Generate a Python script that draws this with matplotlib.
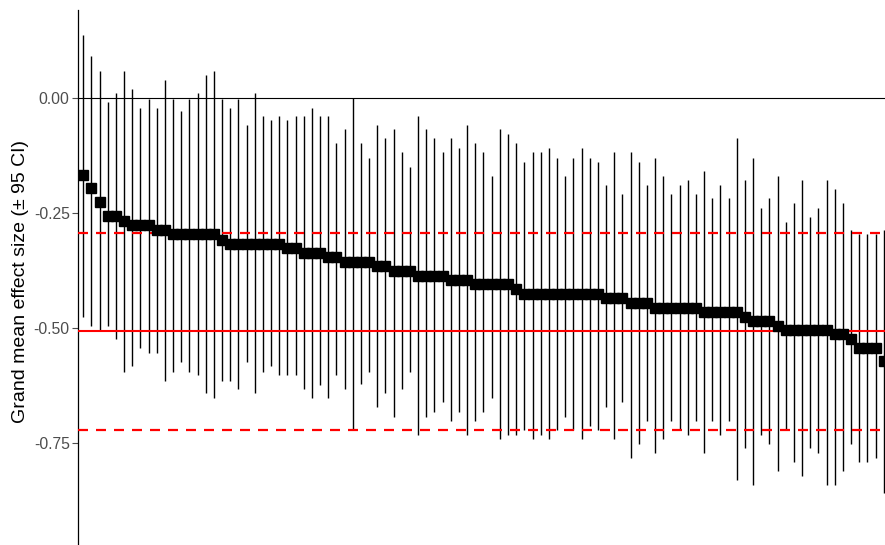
import numpy as np
import matplotlib
matplotlib.use("Agg")
import matplotlib.pyplot as plt

plt.rcParams["font.family"] = ["Liberation Sans", "DejaVu Sans"]

# grand mean effect size per item, sorted, with 95% CI bounds
means = [
    -0.167, -0.196, -0.226, -0.255, -0.255, -0.267, -0.275, -0.275, -0.275, -0.287,
    -0.287, -0.296, -0.296, -0.296, -0.296, -0.296, -0.296, -0.307, -0.316, -0.316,
    -0.316, -0.316, -0.316, -0.316, -0.316, -0.325, -0.325, -0.336, -0.336, -0.336,
    -0.346, -0.346, -0.355, -0.355, -0.355, -0.355, -0.365, -0.365, -0.375, -0.375,
    -0.375, -0.386, -0.386, -0.386, -0.386, -0.395, -0.395, -0.395, -0.404, -0.404,
    -0.404, -0.404, -0.404, -0.415, -0.425, -0.425, -0.425, -0.425, -0.425, -0.425,
    -0.425, -0.425, -0.425, -0.425, -0.435, -0.435, -0.435, -0.445, -0.445, -0.445,
    -0.455, -0.455, -0.455, -0.455, -0.455, -0.455, -0.465, -0.465, -0.465, -0.465,
    -0.465, -0.475, -0.484, -0.484, -0.484, -0.494, -0.504, -0.504, -0.504, -0.504,
    -0.504, -0.504, -0.513, -0.513, -0.523, -0.543, -0.543, -0.543, -0.572,
]
upper = [
    0.138, 0.091, 0.059, -0.007, 0.011, 0.059, 0.020, -0.020, -0.001, -0.020,
    0.040, -0.001, -0.028, -0.001, 0.011, 0.051, 0.059, -0.001, -0.020, -0.001,
    -0.058, 0.011, -0.038, -0.047, -0.038, -0.047, -0.038, -0.038, -0.020, -0.038,
    -0.038, -0.098, -0.067, 0.000, -0.098, -0.129, -0.058, -0.087, -0.067, -0.117,
    -0.149, -0.038, -0.067, -0.087, -0.117, -0.087, -0.107, -0.058, -0.098, -0.117,
    -0.169, -0.067, -0.078, -0.098, -0.138, -0.117, -0.117, -0.107, -0.129, -0.169,
    -0.129, -0.107, -0.129, -0.138, -0.188, -0.117, -0.209, -0.117, -0.138, -0.188,
    -0.129, -0.169, -0.209, -0.188, -0.178, -0.209, -0.158, -0.217, -0.188, -0.217,
    -0.087, -0.178, -0.129, -0.238, -0.217, -0.169, -0.268, -0.228, -0.178, -0.259,
    -0.238, -0.178, -0.198, -0.228, -0.286, -0.296, -0.296, -0.296, -0.286,
]
lower = [
    -0.475, -0.494, -0.504, -0.495, -0.523, -0.594, -0.583, -0.543, -0.554, -0.554,
    -0.614, -0.594, -0.574, -0.594, -0.601, -0.641, -0.652, -0.614, -0.614, -0.633,
    -0.574, -0.641, -0.594, -0.583, -0.601, -0.601, -0.601, -0.633, -0.652, -0.623,
    -0.652, -0.601, -0.633, -0.721, -0.622, -0.594, -0.672, -0.641, -0.692, -0.633,
    -0.594, -0.732, -0.692, -0.681, -0.661, -0.701, -0.681, -0.732, -0.701, -0.681,
    -0.652, -0.741, -0.732, -0.732, -0.721, -0.741, -0.732, -0.741, -0.721, -0.692,
    -0.721, -0.741, -0.712, -0.721, -0.672, -0.741, -0.661, -0.783, -0.751, -0.701,
    -0.772, -0.741, -0.701, -0.721, -0.732, -0.701, -0.772, -0.701, -0.732, -0.701,
    -0.830, -0.761, -0.841, -0.732, -0.751, -0.810, -0.721, -0.791, -0.821, -0.761,
    -0.772, -0.841, -0.841, -0.810, -0.751, -0.791, -0.791, -0.783, -0.858,
]

overall_mean = -0.506
overall_ci = (-0.292, -0.721)

means = np.array(means)
upper = np.array(upper)
lower = np.array(lower)
x = np.arange(1, len(means) + 1)

fig = plt.figure(figsize=(8.85, 5.45), dpi=100)
ax = fig.add_axes([78 / 885, 0.0, 807 / 885, 1 - 10 / 545])

ax.axhline(0, color="black", lw=0.8, zorder=1)
ax.errorbar(x, means, yerr=[means - lower, upper - means], fmt="none",
            ecolor="black", elinewidth=1.0, capsize=0, zorder=2)
ax.axhline(overall_mean, color="#FF0000", lw=1.5, zorder=3)
for c in overall_ci:
    ax.axhline(c, color="#FF0000", lw=1.6, ls=(0, (4.5, 3.6)), zorder=3)
ax.plot(x, means, "s", color="black", markersize=6.6, zorder=4)

ax.set_xlim(1 - 5.3 / 8.17, len(means) + 1.3 / 8.17)
ax.set_ylim(-(545 - 98.3) / 460, (98.3 - 10) / 460)
ax.set_yticks([0, -0.25, -0.5, -0.75])
ax.set_yticklabels(["0.00", "-0.25", "-0.50", "-0.75"])
ax.tick_params(axis="y", labelsize=11.3, colors="#4D4D4D", length=4, width=0.8, pad=2)
ax.set_xticks([])

for s in ("top", "right", "bottom"):
    ax.spines[s].set_visible(False)
ax.spines["left"].set_linewidth(0.9)
ax.spines["left"].set_color("black")

ax.set_ylabel("Grand mean effect size (± 95 CI)", fontsize=14, color="black")
ax.yaxis.set_label_coords(-57.5 / 807, 0.4925)
ax.yaxis.label.set_va("center")

fig.savefig("out.png", dpi=100)
